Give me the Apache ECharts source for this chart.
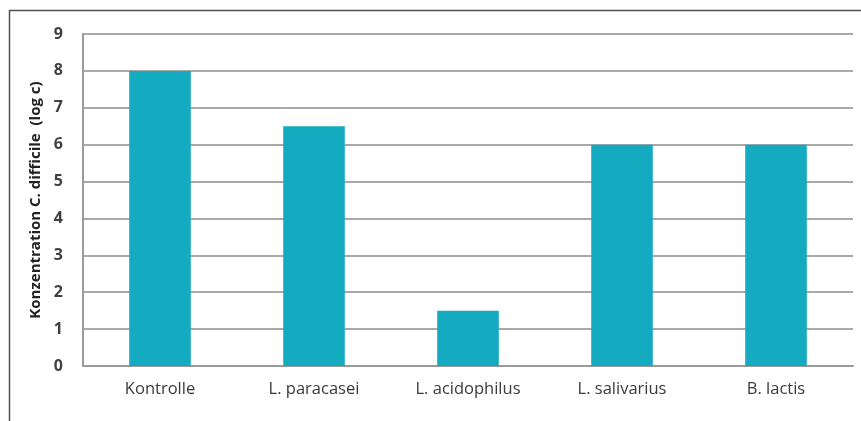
<!DOCTYPE html>
<html>
<head>
<meta charset="utf-8">
<script src="https://cdn.jsdelivr.net/npm/echarts@6/dist/echarts.min.js"></script>
<style>
  html, body { margin: 0; padding: 0; background: #fff; }
  #chart { width: 861px; height: 421px; }
</style>
</head>
<body>
<div id="chart"></div>
<script>
// categories and values
var categories = ["Kontrolle", "L. paracasei", "L. acidophilus", "L. salivarius", "B. lactis"];
var concentration = [8, 6.5, 1.5, 6, 6];
var yTicks = [0, 9, 1]; // min, max, step

var chart = echarts.init(document.getElementById("chart"));
var option = {
  animation: false,
  textStyle: { fontFamily: "Open Sans" },
  // outer frame, only top and left edges fall inside the picture
  graphic: [{
    type: "rect",
    shape: { x: 9.5, y: 10.5, width: 900, height: 500 },
    style: { fill: "none", stroke: "#505050", lineWidth: 1.5 },
    silent: true
  }],
  grid: { left: 83, right: 8, top: 34, bottom: 55 },
  xAxis: {
    type: "category",
    data: categories,
    axisTick: { show: false },
    axisLine: { lineStyle: { color: "#9a9a9a", width: 2 } },
    axisLabel: { color: "#3a3a3a", fontSize: 16.5, margin: 15 }
  },
  yAxis: {
    type: "value",
    min: yTicks[0],
    max: yTicks[1],
    interval: yTicks[2],
    name: "Konzentration C. difficile  (log c)",
    nameLocation: "middle",
    nameGap: 37,
    nameTextStyle: { color: "#222", fontSize: 15, fontWeight: "bold" },
    axisLine: { show: true, lineStyle: { color: "#9a9a9a", width: 2 } },
    axisTick: { show: false },
    axisLabel: { color: "#404040", fontSize: 16, fontWeight: "bold", margin: 20 },
    splitLine: { lineStyle: { color: "#a9a9a9", width: 2 } }
  },
  series: [{
    type: "bar",
    data: concentration,
    barWidth: "40%",
    itemStyle: { color: "#14abc1" }
  }]
};
chart.setOption(option);
</script>
</body>
</html>
